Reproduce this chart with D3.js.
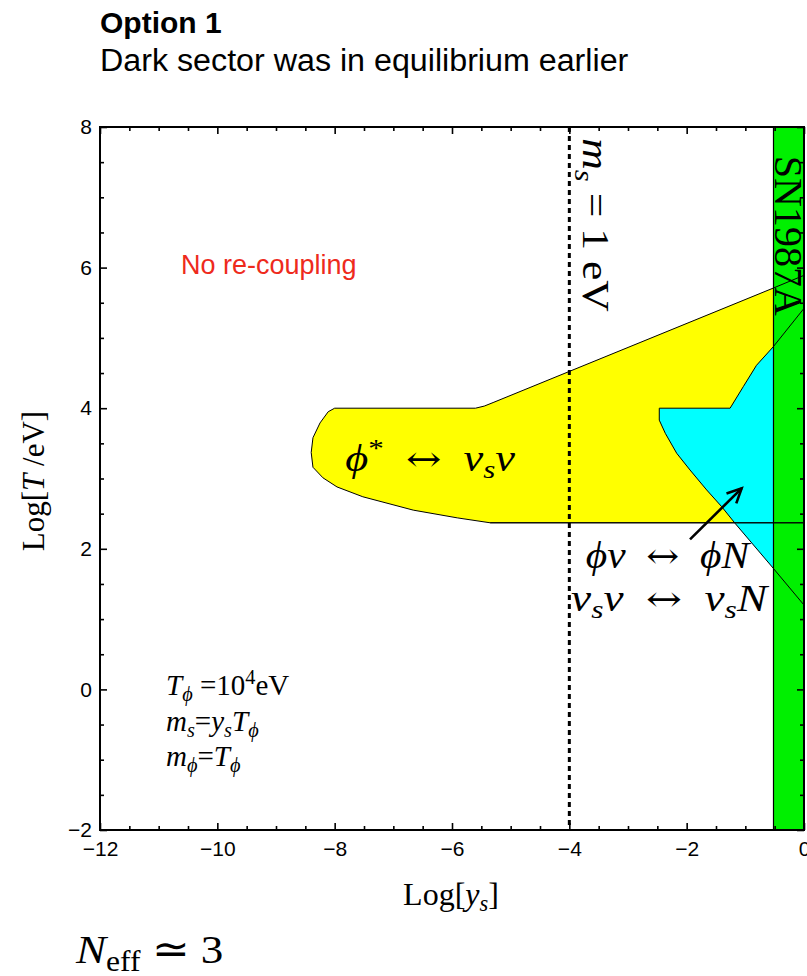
<!DOCTYPE html>
<html><head><meta charset="utf-8">
<script src="https://cdn.jsdelivr.net/npm/d3@7"></script>
<style>body{margin:0;background:#fff}</style>
</head><body>
<svg id="c" width="807" height="976"></svg>
<script>
// ---- data ----
const xDomain = [-12, 0];
const yDomain = [-2, 8];
const xMajorTicks = [-12, -10, -8, -6, -4, -2, 0];
const xMinorTicks = [-11.5,-11,-10.5,-9.5,-9,-8.5,-7.5,-7,-6.5,-5.5,-5,-4.5,-3.5,-3,-2.5,-1.5,-1,-0.5];
const yMajorTicks = [-2, 0, 2, 4, 6, 8];
const yMinorTicks = [-1.5,-1,-0.5,0.5,1,1.5,2.5,3,3.5,4.5,5,5.5,6.5,7,7.5];

// yellow region: phi* <-> nu_s nu
const yellowRegion = [
  [-8.0,4.0],[-5.6,4.0],[-5.45,4.03],[-5.3,4.08],[-0.52,5.71],[0,5.89],
  [0,2.37],[-5.35,2.37],[-5.91,2.44],[-6.66,2.55],[-7.52,2.74],[-7.96,2.88],
  [-8.20,3.01],[-8.37,3.16],[-8.40,3.37],[-8.37,3.58],[-8.25,3.79],[-8.11,3.95]
];
// cyan region: phi nu <-> phi N, nu_s nu <-> nu_s N
const cyanRegion = [
  [0,5.42],[-0.523,4.875],[-0.81,4.61],[-1.035,4.306],[-1.26,4.0],
  [-2.467,4.0],[-2.467,3.83],[-2.364,3.643],[-2.17,3.359],[-1.943,3.121],
  [-1.659,2.837],[-1.403,2.599],[-1.176,2.363],[-0.523,1.722],[0,1.2]
];
const yellowFloor = 2.37;
const yellowFloorStart = -5.35;
const snBound = -0.52;
const msLine = -4;
const arrowPts = [[-1.943,2.135],[-1.063,2.86]];

// ---- setup ----
const L = 100, R = 804, T = 127, B = 830;
const x = d3.scaleLinear().domain(xDomain).range([L, R]);
const y = d3.scaleLinear().domain(yDomain).range([B, T]);
const svg = d3.select("#c");
const serif = "'Liberation Serif','Times New Roman',serif";
const sans = "'Liberation Sans',Arial,Helvetica,sans-serif";
const arrowFont = "'DejaVu Serif',serif";
const PHI = "ϕ";

const line = d3.line().x(d => x(d[0])).y(d => y(d[1]));

svg.append("path").attr("d", line(yellowRegion) + "Z").attr("fill", "#ffff00");
svg.append("path").attr("d", line(cyanRegion) + "Z").attr("fill", "#00ffff");
svg.append("rect").attr("x", x(snBound)).attr("y", y(yDomain[1]))
  .attr("width", x(xDomain[1]) - x(snBound)).attr("height", y(yDomain[0]) - y(yDomain[1]))
  .attr("fill", "#00f000");
svg.append("path").attr("d", line(yellowRegion) + "Z").attr("fill", "none")
  .attr("stroke", "#000").attr("stroke-width", 1);
svg.append("path").attr("d", line(cyanRegion)).attr("fill", "none")
  .attr("stroke", "#000").attr("stroke-width", 1);
svg.append("line").attr("x1", x(yellowFloorStart)).attr("x2", x(0))
  .attr("y1", y(yellowFloor)).attr("y2", y(yellowFloor)).attr("stroke", "#000").attr("stroke-width", 1);
svg.append("line").attr("x1", x(snBound)).attr("x2", x(snBound))
  .attr("y1", y(yDomain[0])).attr("y2", y(yDomain[1])).attr("stroke", "#000").attr("stroke-width", 1.2);

svg.append("line").attr("x1", x(msLine)).attr("x2", x(msLine))
  .attr("y1", y(yDomain[1])).attr("y2", y(yDomain[0]))
  .attr("stroke", "#000").attr("stroke-width", 3).attr("stroke-dasharray", "5,4");

{
  const [p0, p1] = arrowPts.map(d => [x(d[0]), y(d[1])]);
  svg.append("line").attr("x1", p0[0]).attr("y1", p0[1]).attr("x2", p1[0]).attr("y2", p1[1])
    .attr("stroke", "#000").attr("stroke-width", 2.6);
  const ang = Math.atan2(p1[1] - p0[1], p1[0] - p0[0]);
  const hl = 16, ha = 0.45;
  const h = [ang + Math.PI - ha, ang + Math.PI + ha].map(a => [p1[0] + hl * Math.cos(a), p1[1] + hl * Math.sin(a)]);
  svg.append("path").attr("d", `M${h[0][0]},${h[0][1]}L${p1[0]},${p1[1]}L${h[1][0]},${h[1][1]}`)
    .attr("fill", "none").attr("stroke", "#000").attr("stroke-width", 2.6);
}

function rich(g, px, py, segs, fs, opts = {}) {
  const t = g.append("text").attr("x", 0).attr("y", 0)
    .attr("font-family", opts.family || serif).attr("font-size", fs)
    .attr("fill", opts.fill || "#000").attr("xml:space", "preserve")
    .attr("transform", `translate(${px},${py}) rotate(${opts.rotate || 0}) scale(${opts.sx || 1},1)`);
  if (opts.anchor) t.attr("text-anchor", opts.anchor);
  let off = 0;
  segs.forEach(s => {
    const target = s.sub ? fs * 0.2 : s.sup ? -fs * 0.38 : 0;
    const ts = t.append("tspan").text(s.t);
    if (target - off !== 0) ts.attr("dy", target - off);
    off = target;
    if (s.dx) ts.attr("dx", s.dx);
    if (s.i) ts.attr("font-style", "italic");
    if (s.f) ts.attr("font-family", s.f);
    if (s.sub || s.sup) ts.attr("font-size", fs * 0.7);
    else if (s.fs) ts.attr("font-size", fs * s.fs);
  });
  return t;
}
const ARW = {t:"↔", f: arrowFont, fs: 0.95};

svg.append("text").attr("x", x(-10.62)).attr("y", y(5.91)).attr("font-family", sans)
  .attr("font-size", 27).attr("fill", "#ee2a1c").text("No re-coupling");
rich(svg, x(-7.82), y(3.11), [{t:PHI,i:1},{t:"*",sup:1},{t:"  "},ARW,{t:"  "},{t:"ν",i:1},{t:"s",i:1,sub:1},{t:"ν",i:1}], 37, {sx:1.2});
rich(svg, x(-3.72), y(1.727), [{t:PHI+"ν",i:1},{t:"  "},ARW,{t:"  "},{t:PHI+"N",i:1}], 37, {sx:1.12});
rich(svg, x(-3.97), y(1.115), [{t:"ν",i:1},{t:"s",i:1,sub:1},{t:"ν",i:1},{t:"  "},ARW,{t:"  "},{t:"ν",i:1},{t:"s",i:1,sub:1},{t:"N",i:1}], 37, {sx:1.22});
rich(svg, x(-3.767), y(7.84), [{t:"m",i:1},{t:"s",i:1,sub:1},{t:" = 1 eV"}], 38, {rotate:90, sx:1.15});
rich(svg, x(-0.494), y(7.59), [{t:"SN1987A"}], 40, {rotate:90});

const bx = x(-10.875), by = y(-0.08);
rich(svg, bx, by, [{t:"T",i:1},{t:PHI,i:1,sub:1},{t:" =10"},{t:"4",sup:1},{t:"eV"}], 29);
rich(svg, bx, by + 36, [{t:"m",i:1},{t:"s",i:1,sub:1},{t:"="},{t:"y",i:1},{t:"s",i:1,sub:1},{t:"T",i:1},{t:PHI,i:1,sub:1}], 29);
rich(svg, bx, by + 71, [{t:"m",i:1},{t:PHI,i:1,sub:1},{t:"="},{t:"T",i:1},{t:PHI,i:1,sub:1}], 29);

function ax(gen, tr, vals, size, labels, pad) {
  const g = svg.append("g").attr("transform", tr)
    .call(gen.tickValues(vals).tickSizeInner(-size).tickSizeOuter(0).tickPadding(pad || 6)
      .tickFormat(labels ? d3.format("d") : ""));
  g.select(".domain").remove();
  g.selectAll(".tick line").attr("stroke", "#000").attr("stroke-width", 1.6);
  g.selectAll("text").attr("font-family", sans).attr("font-size", 21).attr("fill", "#000");
  return g;
}
ax(d3.axisBottom(x), `translate(0,${B})`, xMajorTicks, 7, true, 11);
ax(d3.axisBottom(x), `translate(0,${B})`, xMinorTicks, 4, false);
ax(d3.axisTop(x), `translate(0,${T})`, xMajorTicks, 7, false);
ax(d3.axisTop(x), `translate(0,${T})`, xMinorTicks, 4, false);
ax(d3.axisLeft(y), `translate(${L},0)`, yMajorTicks, 7, true, 8);
ax(d3.axisLeft(y), `translate(${L},0)`, yMinorTicks, 4, false);
ax(d3.axisRight(y), `translate(${R},0)`, yMajorTicks, 7, false);
ax(d3.axisRight(y), `translate(${R},0)`, yMinorTicks, 4, false);

svg.append("rect").attr("x", L).attr("y", T).attr("width", R - L).attr("height", B - T)
  .attr("fill", "none").attr("stroke", "#000").attr("stroke-width", 2);

rich(svg, 451, 905, [{t:"Log["},{t:"y",i:1},{t:"s",i:1,sub:1},{t:"]"}], 32, {anchor:"middle"});
rich(svg, 44, 481, [{t:"Log["},{t:"T",i:1},{t:" /eV]"}], 31, {anchor:"middle", rotate:-90});

svg.append("text").attr("x", 100).attr("y", 33).attr("font-family", sans).attr("font-weight", "bold")
  .attr("font-size", 30).text("Option 1");
rich(svg, 100, 71, [{t:"Dark sector was in equilibrium earlier"}], 31, {family: sans, sx: 1.04});

rich(svg, 76, 963, [{t:"N",i:1},{t:"eff",sub:1},{t:" ≃ 3"}], 41, {sx:1.1});
</script>
</body></html>
